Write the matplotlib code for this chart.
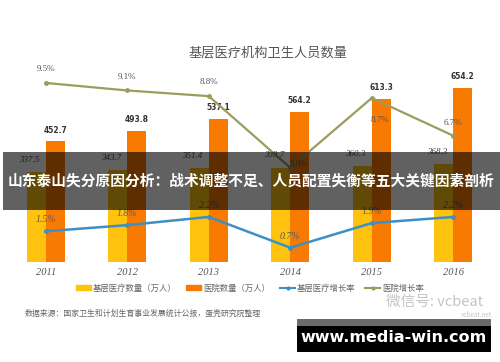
import matplotlib
matplotlib.use("Agg")
import matplotlib.pyplot as plt
import numpy as np
from matplotlib.patches import Rectangle, Patch
from matplotlib.lines import Line2D

plt.rcParams['font.family'] = ['Noto Sans CJK SC', 'DejaVu Sans']

years = ['2011', '2012', '2013', '2014', '2015', '2016']
basic_staff = [337.5, 343.7, 351.4, 353.7, 360.3, 368.3]
hospital_staff = [452.7, 493.8, 537.1, 564.2, 613.3, 654.2]
basic_growth = [1.5, 1.8, 2.2, 0.7, 1.9, 2.2]
hospital_growth = [9.5, 9.1, 8.8, 5.0, 8.7, 6.7]

YELLOW = "#FFC20E"
ORANGE = "#F97A00"
BLUE = "#3D8FC6"
OLIVE = "#9C9C5C"
W, H = 500, 362


def fx(x):
    return x / W


def fy(y):
    return 1 - y / H


fig = plt.figure(figsize=(5, 3.62), dpi=100)
ax = fig.add_axes([fx(5), fy(262), 489 / W, 213 / H])
x = np.arange(len(years))
bw = 0.233

ax.bar(x - bw / 2, basic_staff, bw, color=YELLOW, zorder=2)
ax.bar(x + bw / 2, hospital_staff, bw, color=ORANGE, zorder=2)
ax.set_xlim(-0.5, 5.5)
ax.set_ylim(0, 800)
ax.set_xticks(x)
ax.set_xticklabels(years, family='Liberation Serif', style='italic',
                   fontsize=7.5, color='#555555')
ax.tick_params(axis='x', length=0, pad=4)
ax.set_yticks([])
for s in ax.spines.values():
    s.set_visible(False)

for i in range(len(years)):
    ax.annotate(f"{hospital_staff[i]:.1f}", (x[i] + bw / 2, hospital_staff[i]),
                xytext=(0, 5), textcoords='offset points', ha='center',
                va='bottom', fontsize=6, fontweight='bold', color='#333333',
                family='DejaVu Sans', fontstretch='condensed')
    ax.annotate(f"{basic_staff[i]:.1f}", (x[i] - bw / 2, basic_staff[i]),
                xytext=(-5, 6), textcoords='offset points', ha='center',
                va='bottom', fontsize=6.5, style='italic', color='#444444',
                family='Liberation Serif')

# hospital growth line
ax2 = ax.twinx()
ax2.set_ylim(0, 11.3)
ax2.plot(x, hospital_growth, '-o', color=OLIVE, lw=1.6, ms=2.5, zorder=3)
green_off = [(0, 7), (0, 7), (0, 7), (6, 0), (6, -19), (0, 6)]
for i, v in enumerate(hospital_growth):
    ax2.annotate(f"{v:.1f}%", (x[i], v), xytext=green_off[i],
                 textcoords='offset points', ha='center', va='bottom',
                 fontsize=6.5, color='#555555', family='Liberation Serif')

# basic growth line
ax3 = ax.twinx()
ax3.set_ylim(0, 10.4)
ax3.plot(x, basic_growth, '-o', color=BLUE, lw=1.8, ms=2.5, zorder=3)
for i, v in enumerate(basic_growth):
    ax3.annotate(f"{v:.1f}%", (x[i], v), xytext=(0, 5),
                 textcoords='offset points', ha='center', va='bottom',
                 fontsize=7, style='italic', color='#5a5a5a',
                 family='Liberation Serif')

for a in (ax2, ax3):
    a.set_yticks([])
    for s in a.spines.values():
        s.set_visible(False)
    a.set_xlim(-0.5, 5.5)

fig.text(fx(268), fy(53), "基层医疗机构卫生人员数量", ha='center', va='center',
         fontsize=9.5, color='#555555')

handles = [Patch(color=YELLOW), Patch(color=ORANGE),
           Line2D([], [], color=BLUE, lw=1.5, marker='o', ms=2),
           Line2D([], [], color=OLIVE, lw=1.5, marker='o', ms=2)]
labels = ["基层医疗数量（万人）", "医院数量（万人）", "基层医疗增长率", "医院增长率"]
fig.legend(handles, labels, loc='center', bbox_to_anchor=(fx(250), fy(288)),
           ncol=4, frameon=False, fontsize=6, labelcolor='#666666',
           handlelength=1.8, handleheight=0.6, handletextpad=0.2,
           columnspacing=1.2)

fig.text(fx(25), fy(313), "数据来源：国家卫生和计划生育事业发展统计公报，蛋壳研究院整理",
         ha='left', va='center', fontsize=5.7, color='#666666')
fig.text(fx(386), fy(302), "微信号: vcbeat", ha='left', va='center',
         fontsize=10.5, color='#c4c4c4')
fig.text(fx(492), fy(315), "vcbeat.net", ha='right', va='center',
         fontsize=4.5, color='#c4c4c4')

# overlays
fig.add_artist(Rectangle((fx(3), fy(210)), 497 / W, 58 / H,
                         transform=fig.transFigure, color='black',
                         alpha=0.62, lw=0, zorder=5))
fig.text(fx(251), fy(181),
         "山东泰山失分原因分析：战术调整不足、人员配置失衡等五大关键因素剖析",
         ha='center', va='center', fontsize=10.6, fontweight='bold',
         color='white', zorder=6)
fig.add_artist(Rectangle((fx(297), fy(326)), 194 / W, 7 / H,
                         transform=fig.transFigure, color='#6b6b6b', lw=0,
                         zorder=5))
fig.add_artist(Rectangle((fx(297), fy(352)), 194 / W, 26 / H,
                         transform=fig.transFigure, color='black', lw=0,
                         zorder=5))
fig.text(fx(394), fy(338), "www.media-win.com", ha='center', va='center',
         fontsize=11.5, fontweight='bold', color='white', zorder=6,
         family='DejaVu Sans')

fig.savefig("out.png", dpi=100)
